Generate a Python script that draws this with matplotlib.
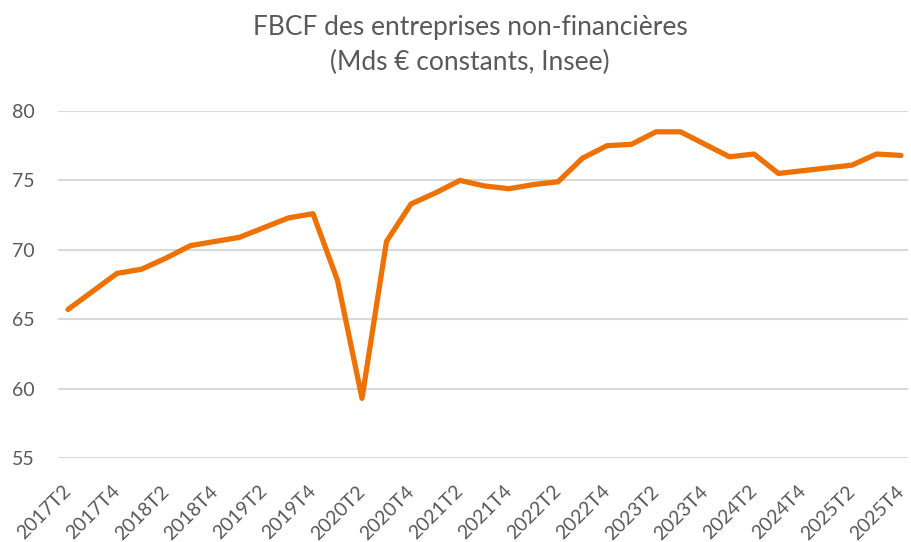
import matplotlib
matplotlib.use("Agg")
import matplotlib.pyplot as plt

quarters = [f"{y}T{q}" for y in range(2017, 2026) for q in range(1, 5)][1:]
values = [65.7, 67.0, 68.3, 68.6, 69.4, 70.3, 70.6, 70.9, 71.6, 72.3, 72.6,
          67.8, 59.3, 70.6, 73.3, 74.1, 75.0, 74.6, 74.4, 74.7, 74.9,
          76.6, 77.5, 77.6, 78.5, 78.5, 77.6, 76.7, 76.9, 75.5, 75.7,
          75.9, 76.1, 76.9, 76.8]
yticks = [55, 60, 65, 70, 75, 80]
title1 = "FBCF des entreprises non-financières"
title2 = "(Mds € constants, Insee)"

plt.rcParams['font.family'] = ['Lato', 'DejaVu Sans']
W, H = 911, 542
fig = plt.figure(figsize=(W/100, H/100), dpi=100)
ax = fig.add_axes([58/W, 1-458/H, (908-58)/W, (458-111)/H])

x = list(range(len(values)))
ax.plot(x, values, color='#EE7203', lw=3.8, solid_joinstyle='round', solid_capstyle='round', zorder=3)

ax.set_ylim(55, 80)
ax.set_yticks(yticks)
ax.set_xlim(-10/24.5, 34 + 7/24.5)
ax.set_xticks(x[::2])
ax.set_xticklabels(quarters[::2], rotation=45, ha='right', va='center', rotation_mode='anchor')
ax.yaxis.grid(True, color='#D9D9D9', lw=1.5)
ax.set_axisbelow(True)
for s in ax.spines.values():
    s.set_visible(False)
ax.tick_params(axis='both', length=0, labelsize=14, colors='#595959')
ax.tick_params(axis='y', pad=17)
ax.tick_params(axis='x', pad=22)

fig.text(470/W, 1-28/H, title1, ha='center', va='center', fontsize=19, color='#595959')
fig.text(470/W, 1-62/H, title2, ha='center', va='center', fontsize=19, color='#595959')

fig.savefig('out.png', dpi=100, facecolor='white')
